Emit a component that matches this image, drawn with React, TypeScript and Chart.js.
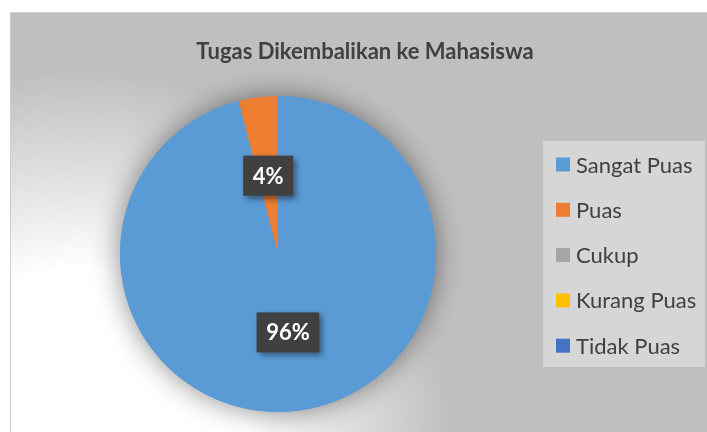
import React, { useEffect, useRef } from "react";
import { Chart, registerables } from "chart.js";

Chart.register(...registerables);

const TITLE = "Tugas Dikembalikan ke Mahasiswa";
const LABELS = ["Sangat Puas", "Puas", "Cukup", "Kurang Puas", "Tidak Puas"];
const VALUES = [96, 4, 0, 0, 0];
const COLORS = ["#5b9bd5", "#ed7d31", "#a5a5a5", "#ffc000", "#4472c4"];

const FONT = "Lato, 'Open Sans', sans-serif";

const decorPlugin = {
  id: "decor",
  beforeDraw(chart: any) {
    const ctx = chart.ctx as CanvasRenderingContext2D;
    const W = chart.width;
    const H = chart.height;
    ctx.save();
    ctx.fillStyle = "#ffffff";
    ctx.fillRect(0, 0, W, H);
    const fx = 10, fy = 12;
    const g = ctx.createRadialGradient(80, 440, 170, 80, 440, 370);
    g.addColorStop(0, "#ffffff");
    g.addColorStop(1, "#bfbfbf");
    ctx.fillStyle = g;
    ctx.fillRect(fx, fy, W - fx, H - fy);
    ctx.fillStyle = "#cfcfcf";
    ctx.fillRect(fx, fy, W - fx, 1);
    ctx.fillRect(fx, fy, 1, H - fy);

    // title
    ctx.fillStyle = "#404040";
    ctx.font = `bold 22px ${FONT}`;
    ctx.textAlign = "center";
    ctx.textBaseline = "alphabetic";
    ctx.fillText(TITLE, 365, 59);

    // legend
    ctx.fillStyle = "#d6d6d6";
    ctx.fillRect(543, 141, 162, 226);
    ctx.font = `22px ${FONT}`;
    ctx.textAlign = "left";
    LABELS.forEach((lab, i) => {
      const cy = 164.5 + i * 45.3;
      ctx.fillStyle = COLORS[i];
      ctx.fillRect(556, cy - 7, 14, 14);
      ctx.fillStyle = "#404040";
      ctx.fillText(lab, 576, cy + 8);
    });

    // pie shadow
    const meta = chart.getDatasetMeta(0);
    const arc: any = meta.data[0];
    if (arc) {
      ctx.save();
      ctx.shadowColor = "rgba(0,0,0,0.45)";
      ctx.shadowBlur = 28;
      ctx.fillStyle = COLORS[0];
      ctx.beginPath();
      ctx.arc(arc.x, arc.y, arc.outerRadius, 0, Math.PI * 2);
      ctx.fill();
      ctx.restore();
    }
    ctx.restore();
  },
  afterDatasetsDraw(chart: any) {
    const ctx = chart.ctx as CanvasRenderingContext2D;
    const meta = chart.getDatasetMeta(0);
    const total = VALUES.reduce((a, b) => a + b, 0);
    ctx.save();
    ctx.font = `bold 22px ${FONT}`;
    ctx.textAlign = "center";
    ctx.textBaseline = "middle";
    meta.data.forEach((el: any, i: number) => {
      const v = VALUES[i];
      if (!v) return;
      const pct = Math.round((v / total) * 100) + "%";
      const p = el.tooltipPosition();
      const tw = ctx.measureText(pct).width;
      const bw = tw + 19;
      const bh = 40;
      ctx.save();
      ctx.shadowColor = "rgba(0,0,0,0.45)";
      ctx.shadowBlur = 6;
      ctx.shadowOffsetX = 3;
      ctx.shadowOffsetY = 3;
      ctx.fillStyle = "#404040";
      ctx.fillRect(p.x - bw / 2, p.y - bh / 2, bw, bh);
      ctx.restore();
      ctx.fillStyle = "#ffffff";
      ctx.fillText(pct, p.x, p.y + 1);
    });
    ctx.restore();
  },
};

export default function App() {
  const ref = useRef<HTMLCanvasElement | null>(null);
  useEffect(() => {
    if (!ref.current) return;
    const chart = new Chart(ref.current, {
      type: "pie",
      data: {
        labels: LABELS,
        datasets: [
          {
            data: VALUES,
            backgroundColor: COLORS,
            borderWidth: 0,
          },
        ],
      },
      options: {
        animation: false,
        responsive: false,
        events: [],
        layout: { padding: { left: 120, right: 271, top: 96, bottom: 20 } },
        plugins: {
          legend: { display: false },
          title: { display: false },
          tooltip: { enabled: false },
        },
      },
      plugins: [decorPlugin],
    });
    return () => chart.destroy();
  }, []);
  return (
    <div style={{ position: "fixed", left: 0, top: 0, width: 707, height: 432 }}>
      <canvas ref={ref} width={707} height={432} style={{ display: "block" }} />
    </div>
  );
}
